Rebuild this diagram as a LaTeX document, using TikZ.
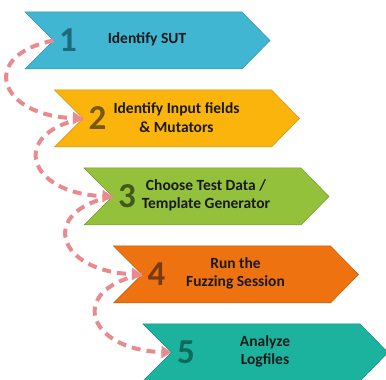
\documentclass[tikz,border=0pt]{standalone}
\usepackage{fontspec}
\setmainfont{Carlito}
\usetikzlibrary{arrows.meta}
\definecolor{fa}{HTML}{41B6D3}\definecolor{da}{HTML}{1D6A7C}
\definecolor{fb}{HTML}{FBB40C}\definecolor{db}{HTML}{775808}
\definecolor{fc}{HTML}{94C13B}\definecolor{dc}{HTML}{3F5A1A}
\definecolor{fd}{HTML}{EE7210}\definecolor{dd}{HTML}{7A3A10}
\definecolor{fe}{HTML}{1BB39D}\definecolor{de}{HTML}{0F6A5C}
\definecolor{arrowc}{HTML}{E98A8E}
\tikzset{
  chev/.style={line width=0.5pt},
  numtext/.style={font=\fontsize{35}{35}\selectfont\bfseries, inner sep=0pt},
  steptext/.style={font=\fontsize{15.5}{18.5}\selectfont\bfseries, align=center, inner sep=0pt, text=black!90},
  flowarrow/.style={draw=arrowc, line width=4pt, dash pattern=on 9pt off 6pt, -{Triangle[length=10pt,width=12pt]}}
}
\begin{document}
\begin{tikzpicture}[x=1pt,y=1pt]
\useasboundingbox (0,0) rectangle (386,380);
\foreach \i/\fcol/\dcol/\txt in {0/fa/da/{Identify SUT},1/fb/db/{Identify Input fields\\\& Mutators},2/fc/dc/{Choose Test Data /\\Template Generator},3/fd/dd/{Run the\\Fuzzing Session},4/fe/de/{Analyze\\Logfiles}}{
  \pgfmathsetmacro{\L}{25+29.5*\i}
  \pgfmathsetmacro{\T}{380-12-78*\i}
  \pgfmathsetmacro{\B}{\T-57}
  \pgfmathsetmacro{\M}{\T-28.5}
  \draw[chev, fill=\fcol, draw=\fcol!80!black] (\L,\T) -- ({\L+217},\T) -- ({\L+245},\M) -- ({\L+217},\B) -- (\L,\B) -- ({\L+28.5},\M) -- cycle;
  \coordinate (n\i) at ({\L+28.5},\M);
  \node[numtext, text=\dcol] (num\i) at ({\L+43},\M) {\pgfmathparse{int(\i+1)}\pgfmathresult};
  \node[steptext] (txt\i) at ({\L+122},{\M+1}) {\txt};
}
\foreach \i/\j in {0/1,1/2,2/3,3/4}{
  \draw[flowarrow] (n\i) .. controls +(-75,-15) and +(-85,3) .. (n\j);
}
\end{tikzpicture}
\end{document}
